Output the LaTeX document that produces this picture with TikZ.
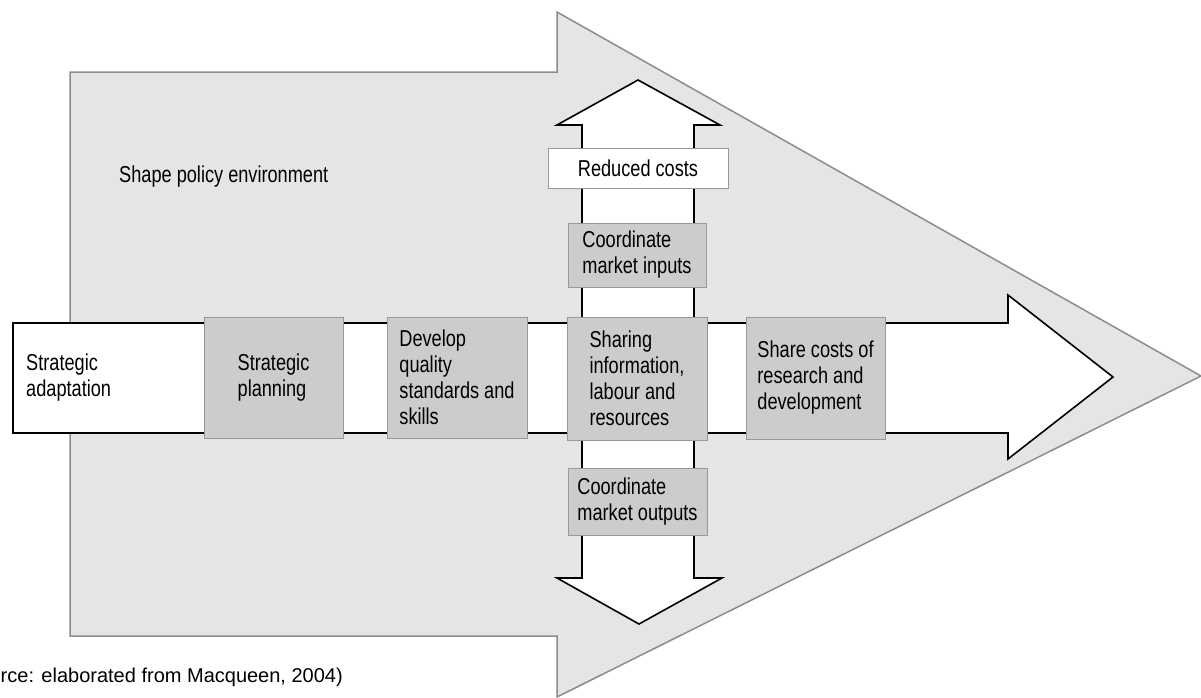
\documentclass[tikz,border=0pt]{standalone}
\usepackage{fontspec}
\setmainfont{Liberation Sans}[FakeStretch=0.79]
\newfontfamily\srcfont{Liberation Sans}
\definecolor{envfill}{gray}{0.9}
\definecolor{envline}{gray}{0.55}
\definecolor{stepfill}{gray}{0.8}
\definecolor{stepline}{gray}{0.6}

\begin{document}
\begin{tikzpicture}
          [x=1pt,y=-1pt,
           every node/.style={font=\fontsize{23}{26}\selectfont,align=left,inner sep=0pt},
           stepbox/.style={draw=stepline,fill=stepfill,line width=1pt},
           flow/.style={draw=black,fill=white,line width=1.6pt,line join=miter}]
          \clip (0,0) rectangle (1201,697);

          % big policy arrow
          \draw[draw=envline,fill=envfill,line width=1.5pt]
            (70,72) -- (557,72) -- (557,12) -- (1201,376) -- (557,697)
            -- (557,636) -- (70,636) -- cycle;

          % flow arrows
          \draw[flow] (13,323) -- (1008,323) -- (1008,295) -- (1113,377)
            -- (1008,459) -- (1008,433) -- (13,433) -- cycle;
          \draw[flow] (582,578) -- (582,125) -- (557,125) -- (638,80)
            -- (720,125) -- (694,125) -- (694,578) -- (722,578)
            -- (639,624) -- (557,578) -- cycle;

          \node (policy) [anchor=west] at (119,177) {Shape policy environment};
          \node (adapt) [anchor=west] at (26,378) {Strategic\\adaptation};

          \node (plan) [stepbox,minimum width=139pt,minimum height=121pt]
            at (273.5,377.5) {Strategic\\planning};
          \node (skills) [stepbox,minimum width=140pt,minimum height=121pt]
            at (457,377.5) {Develop\\quality\\standards and\\skills};
          \node (sharing) [stepbox,minimum width=140pt,minimum height=123pt]
            at (637,378.5) {Sharing\\information,\\labour and\\resources};
          \node (rnd) [stepbox,minimum width=139pt,minimum height=122pt]
            at (815.5,378) {Share costs of\\research and\\development};

          \node (inputs) [stepbox,minimum width=138pt,minimum height=64pt]
            at (637,255) {Coordinate\\market inputs};
          \node (outputs) [stepbox,minimum width=139pt,minimum height=67pt]
            at (637.5,501.5) {Coordinate\\market outputs};
          \node (costs) [draw=stepline,fill=white,line width=1pt,
            minimum width=180pt,minimum height=40pt] at (638,168) {Reduced costs};

          \node (source) [anchor=east,font=\srcfont\fontsize{20}{24}\selectfont]
            at (343,677) {(Source: elaborated from Macqueen, 2004)};

        \end{tikzpicture}
\end{document}
